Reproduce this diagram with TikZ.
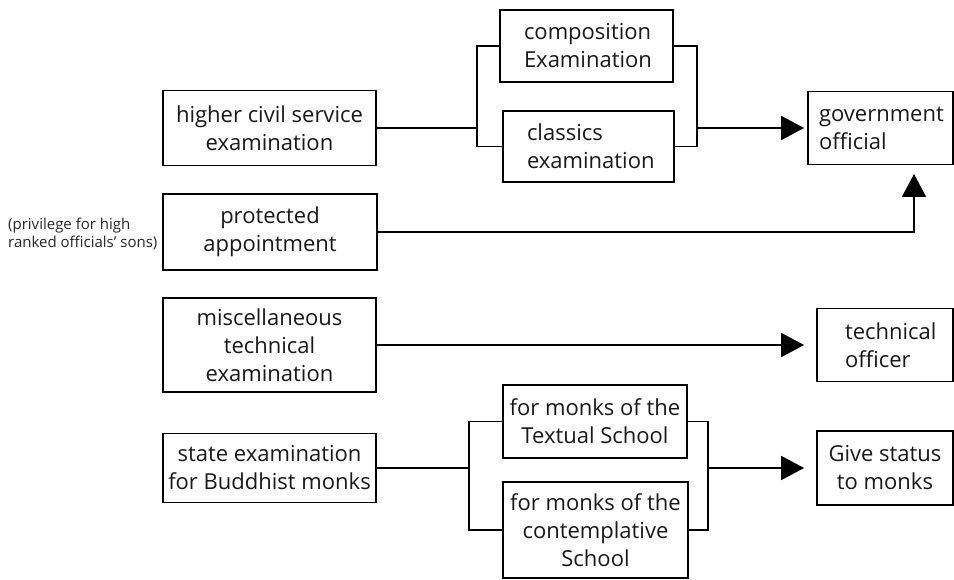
\documentclass[tikz,border=0pt]{standalone}
\usepackage{fontspec}
\setmainfont{Open Sans}
\usetikzlibrary{arrows.meta,calc}
\tikzset{
  box/.style={draw=black, line width=1.8pt, inner sep=0pt, align=center,
    font=\fontsize{22}{28}\selectfont, text=black!90},
  conn/.style={draw=black, line width=1.8pt},
  arr/.style={conn, -{Triangle[length=23pt,width=24pt]}},
}
\begin{document}
\begin{tikzpicture}[x=1pt,y=-1pt]
\useasboundingbox (0,0) rectangle (954,580);
% left column
\node[box, minimum width=213pt, minimum height=75pt] (hcs) at (269.5,128) {higher civil service\\examination};
\node[box, minimum width=214pt, minimum height=76pt] (prot) at (270,232) {protected\\appointment};
\node[box, minimum width=213pt, minimum height=94pt] (misc) at (269.5,345) {miscellaneous\\technical\\examination};
\node[box, minimum width=213pt, minimum height=69pt] (bud) at (269.5,468) {state examination\\for Buddhist monks};
\node[align=left, anchor=west, inner sep=0pt, font=\fontsize{15}{18}\selectfont, text=black!85] (note) at (8,234) {(privilege for high\\ranked officials’ sons)};
% middle
\node[box, minimum width=173pt, minimum height=72pt, align=left, text width=125pt, inner xsep=24pt] (comp) at (586.5,46) {composition\\Examination};
\node[box, minimum width=171pt, minimum height=71pt, align=left, text width=123pt, inner xsep=24pt] (clas) at (588.5,146.5) {classics\\examination};
\node[box, minimum width=184pt, minimum height=73pt] (textual) at (595,421.5) {for monks of the\\Textual School};
\node[box, minimum width=185pt, minimum height=96pt] (cont) at (595.5,530) {for monks of the\\contemplative\\School};
% right
\node[box, minimum width=145pt, minimum height=73pt, align=left, text width=123pt, inner xsep=11pt] (gov) at (880.5,128) {government\\official};
\node[box, minimum width=136pt, minimum height=73pt, align=left, text width=80pt, inner xsep=28pt] (tech) at (885,345) {technical\\officer};
\node[box, minimum width=136pt, minimum height=74pt] (give) at (885,468) {Give status\\to monks};
% junctions
\coordinate (jl) at (477,128);
\coordinate (jr) at (697,128);
\coordinate (jl2) at (469,468);
\coordinate (jr2) at (708,468);
\coordinate (pc) at (914,174);
% connectors
\draw[conn] (hcs.east) -- (jl);
\draw[conn] (comp.west) -| (jl) |- (clas.west);
\draw[conn] (comp.east) -| (jr) |- (clas.east);
\draw[arr, shorten >=3pt] (jr) -- (gov.west);
\draw[arr] (prot.east) -| (pc);
\draw[arr, shorten >=12pt] (misc.east) -- (tech.west);
\draw[conn] (bud.east) -- (jl2);
\draw[conn] (textual.west) -| (jl2) |- (cont.west);
\draw[conn] (textual.east) -| (jr2) |- (cont.east);
\draw[arr, shorten >=12pt] (jr2) -- (give.west);
\end{tikzpicture}
\end{document}
